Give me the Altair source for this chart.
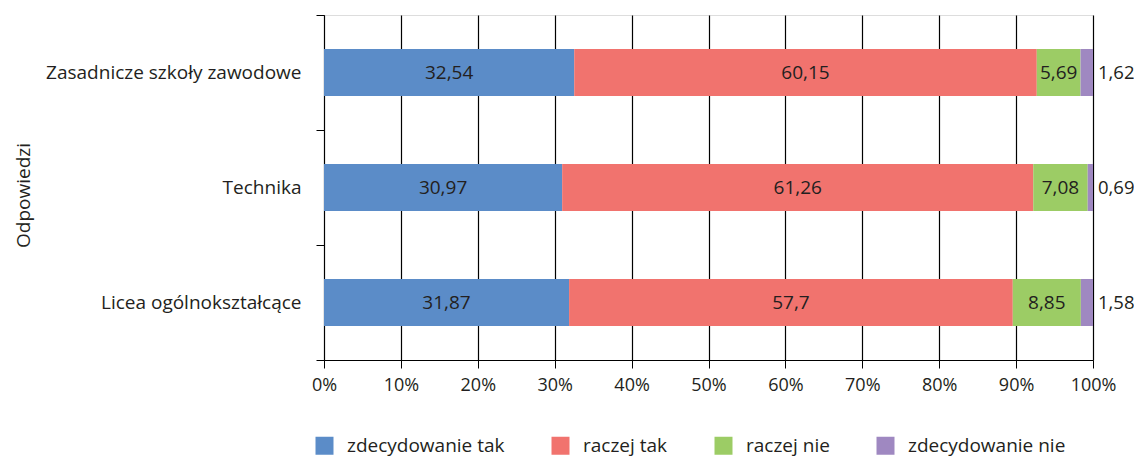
import altair as alt
import pandas as pd

categories = ["Zasadnicze szkoły zawodowe", "Technika", "Licea ogólnokształcące"]
series = ["zdecydowanie tak", "raczej tak", "raczej nie", "zdecydowanie nie"]
zdecydowanie_tak = [32.54, 30.97, 31.87]
raczej_tak = [60.15, 61.26, 57.7]
raczej_nie = [5.69, 7.08, 8.85]
zdecydowanie_nie = [1.62, 0.69, 1.58]
colors = ["#5b8cc8", "#f1736e", "#9ccc65", "#9f88c1"]
x_ticks = [0, 10, 20, 30, 40, 50, 60, 70, 80, 90, 100]

values = [zdecydowanie_tak, raczej_tak, raczej_nie, zdecydowanie_nie]
rows = []
for ci, cat in enumerate(categories):
    start = 0.0
    for si, s in enumerate(series):
        v = values[si][ci]
        rows.append({
            "kategoria": cat,
            "odpowiedz": s,
            "idx": si,
            "value": v,
            "start": start,
            "end": start + v,
            "mid": start + v / 2,
            "label": (f"{v:g}").replace(".", ","),
            "last": si == len(series) - 1,
        })
        start += v
df = pd.DataFrame(rows)

FONT = "Open Sans"
TXT = "#231f20"
FS = 19

y_enc = alt.Y("kategoria:N", sort=categories,
              scale=alt.Scale(paddingInner=0, paddingOuter=0),
              axis=alt.Axis(title="Odpowiedzi", tickBand="extent", domainColor="black",
                            tickColor="black", tickSize=8, labelPadding=15, labelLimit=0,
                            labelFontSize=FS, labelColor=TXT, labelFont=FONT,
                            titleFontSize=FS, titleFont=FONT, titleColor=TXT,
                            titleFontWeight="normal", titleX=-291, titleY=180,
                            grid=False))

x_scale = alt.Scale(domain=[0, 100], nice=False)

bars = alt.Chart(df).mark_bar(size=47).encode(
    y=y_enc,
    x=alt.X("start:Q", scale=x_scale,
            axis=alt.Axis(title=None, values=x_ticks, labelExpr="datum.value + '%'",
                          grid=True, gridColor="black", gridWidth=1.2,
                          domainColor="black", tickColor="black", tickSize=8,
                          labelFontSize=18, labelColor=TXT, labelFont=FONT,
                          labelFlush=False, labelPadding=8)),
    x2="end:Q",
    color=alt.Color("odpowiedz:N", sort=series,
                    scale=alt.Scale(domain=series, range=colors),
                    legend=alt.Legend(title=None, orient="none", direction="horizontal",
                                      legendX=-9, legendY=421,
                                      symbolType="square", symbolSize=324,
                                      symbolStrokeWidth=0, symbolOpacity=1,
                                      labelFontSize=FS, labelFont=FONT, labelColor=TXT,
                                      labelOffset=13, columnPadding=46, labelLimit=0)),
    order=alt.Order("idx:Q"),
)

inner_text = alt.Chart(df).transform_filter("!datum.last").mark_text(
    fontSize=FS, font=FONT, color=TXT
).encode(
    y=alt.Y("kategoria:N", sort=categories),
    x=alt.X("mid:Q", scale=x_scale),
    text="label:N",
)

outer_text = alt.Chart(df).transform_filter("datum.last").mark_text(
    fontSize=18.5, font=FONT, color=TXT, align="left", dx=5
).encode(
    y=alt.Y("kategoria:N", sort=categories),
    x=alt.X("end:Q", scale=x_scale),
    text="label:N",
)

chart = alt.layer(bars, inner_text, outer_text).properties(
    width=769, height=345,
    autosize=alt.AutoSizeParams(type="none"),
    padding={"left": 316, "top": 7, "right": 41, "bottom": 100},
).configure_view(stroke=None).configure(background="white")

chart.save("out.html", embed_options={"renderer": "svg", "actions": False})
